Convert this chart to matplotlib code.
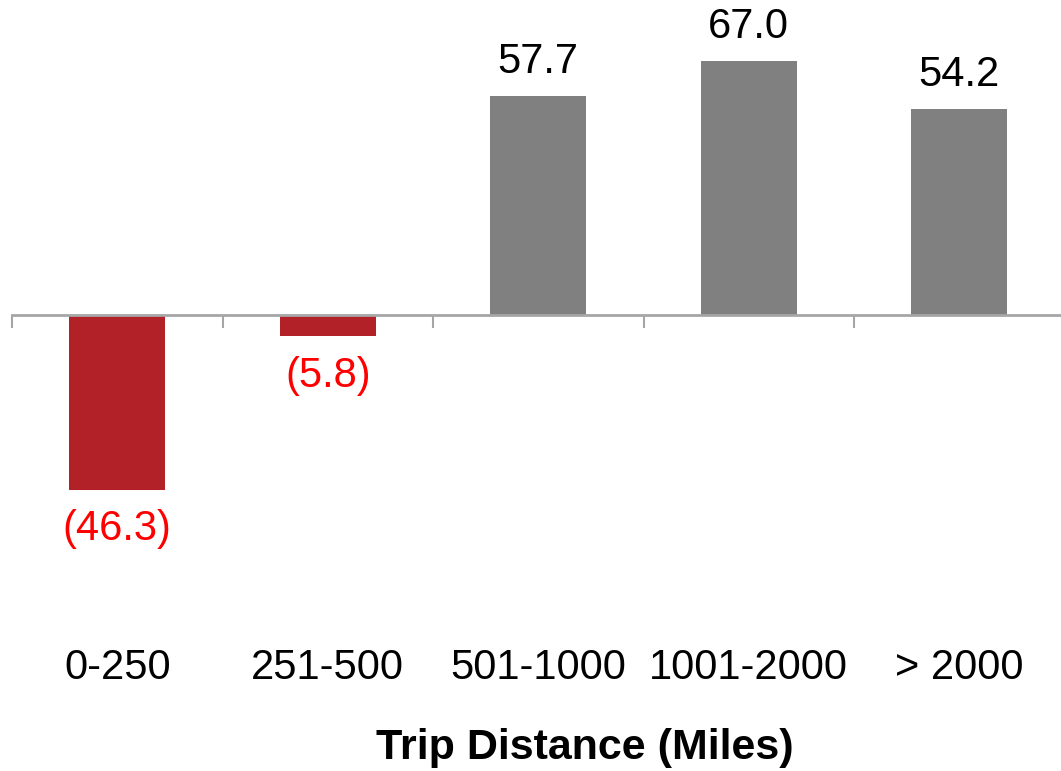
import matplotlib.pyplot as plt
import matplotlib.transforms as mtransforms
import numpy as np

plt.rcParams['font.family'] = ['Liberation Sans', 'DejaVu Sans']

categories = ['0-250', '251-500', '501-1000', '1001-2000', '> 2000']
values = [-46.3, -5.8, 57.7, 67.0, 54.2]
labels = ['(46.3)', '(5.8)', '57.7', '67.0', '54.2']

W, H = 1061, 771
px_per_unit = 3.79
zero_px = 314.5

fig = plt.figure(figsize=(W / 100, H / 100), dpi=100)
# axes spans full height; category width ~210.5 px starting at x=12
ax = fig.add_axes([12 / W, 0, 210.5 * 5 / W, 1])
ax.set_xlim(-0.5, 4.5)
ax.set_ylim(-(H - zero_px) / px_per_unit, zero_px / px_per_unit)

x = np.arange(len(categories))
colors = ['#B22028' if v < 0 else '#808080' for v in values]
ax.bar(x, values, width=0.455, color=colors, zorder=2)

for xi, v, lab in zip(x, values, labels):
    if v < 0:
        ax.annotate(lab, (xi, v), xytext=(0, -14), textcoords='offset points',
                    ha='center', va='top', fontsize=30, color='#FF0000')
    else:
        ax.annotate(lab, (xi, v), xytext=(0, 10), textcoords='offset points',
                    ha='center', va='bottom', fontsize=30, color='black')

for s in ['top', 'right', 'left']:
    ax.spines[s].set_visible(False)
ax.spines['bottom'].set_position(('data', 0))
ax.spines['bottom'].set_color('#A6A6A6')
ax.spines['bottom'].set_linewidth(2)
ax.set_yticks([])
ax.set_xticks(np.arange(-0.5, 4.5, 1))
ax.set_xticklabels([])
ax.tick_params(axis='x', direction='out', length=9, width=1.5, color='#A6A6A6')

trans = mtransforms.blended_transform_factory(ax.transData, fig.transFigure)
for xi, c in zip(x, categories):
    ax.text(xi, 1 - 668 / H, c, transform=trans, ha='center', va='center',
            fontsize=30, color='black')

fig.text(585 / W, 1 - 748 / H, 'Trip Distance (Miles)', ha='center', va='center',
         fontsize=31, fontweight='bold')

fig.savefig('out.png', dpi=100)
